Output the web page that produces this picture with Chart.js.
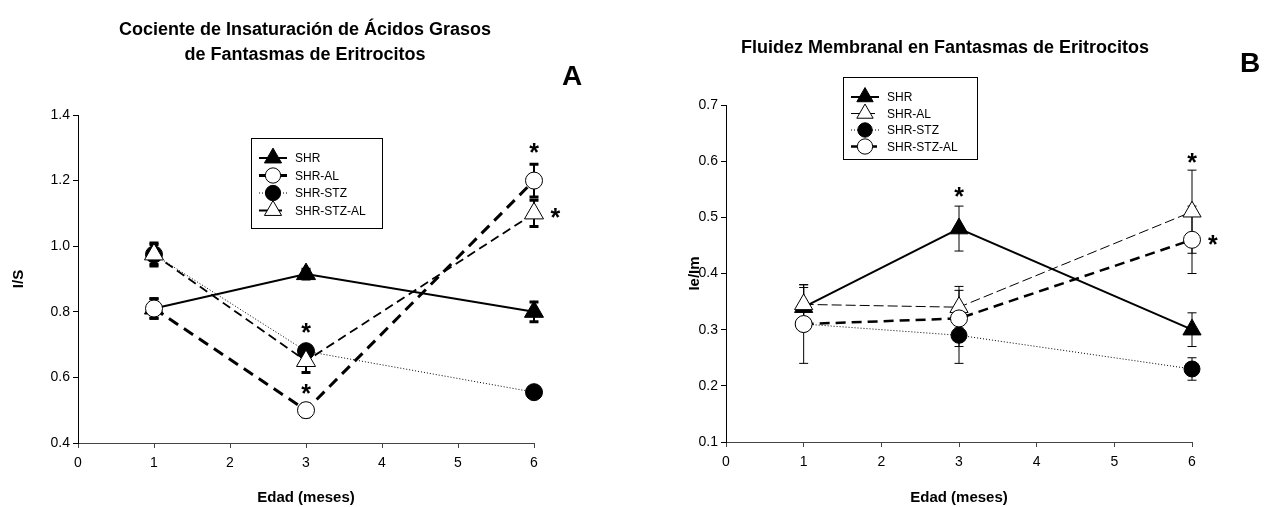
<!DOCTYPE html>
<html lang="es">
<head>
<meta charset="utf-8">
<title>Fantasmas de Eritrocitos</title>
<script src="https://cdn.jsdelivr.net/npm/chart.js@4.4.1/dist/chart.umd.min.js"></script>
<style>
  html, body { margin: 0; padding: 0; background: #fff; }
  body { width: 1272px; height: 507px; position: relative; overflow: hidden; font-family: "Liberation Sans", Arial, sans-serif; }
  .panel { position: absolute; top: 0; width: 636px; height: 507px; }
  .titulo { position: absolute; font-weight: bold; font-size: 18px; text-align: center; line-height: 25px; color: #000; white-space: nowrap; }
  .letra { position: absolute; font-weight: bold; font-size: 28px; color: #000; }
</style>
</head>
<body>
<div class="panel" style="left:0"><canvas id="chartA" width="636" height="507"></canvas></div>
<div class="panel" style="left:636px"><canvas id="chartB" width="636" height="507"></canvas></div>
<div class="titulo" style="left:60px; top:17px; width:490px;">Cociente de Insaturación de Ácidos Grasos<br>de Fantasmas de Eritrocitos</div>
<div class="letra" style="left:562px; top:60px;">A</div>
<div class="titulo" style="left:690px; top:35px; width:510px;">Fluidez Membranal en Fantasmas de Eritrocitos</div>
<div class="letra" style="left:1240px; top:47px;">B</div>

<script>
// Edad en meses
const edad = [1, 3, 6];

// A: cociente I/S (media y error)
const isShr = [0.81, 0.915, 0.80];
const isShrErr = [0.03, 0.015, 0.03];
const isShrAl = [0.81, 0.50, 1.20];
const isShrAlErr = [0.03, 0.02, 0.05];
const isShrStz = [0.975, 0.68, 0.555];
const isShrStzErr = [0.03, 0.015, 0.01];
const isShrStzAl = [0.975, 0.65, 1.10];
const isShrStzAlErr = [0.035, 0.035, 0.04];
const isTicks = [0.4, 0.6, 0.8, 1.0, 1.2, 1.4];
const isAsteriscos = [[3, 0.75], [3, 0.565], [6, 1.30], [6.28, 1.10]];

// B: fluidez Ie/Im (media y error)
const fmShr = [0.34, 0.48, 0.30];
const fmShrErr = [0.035, 0.04, 0.03];
const fmShrAl = [0.345, 0.34, 0.51];
const fmShrAlErr = [0.035, 0.037, 0.074];
const fmShrStz = [0.31, 0.29, 0.23];
const fmShrStzErr = [0.01, 0.05, 0.02];
const fmShrStzAl = [0.31, 0.32, 0.46];
const fmShrStzAlErr = [0.07, 0.05, 0.06];
const fmTicks = [0.1, 0.2, 0.3, 0.4, 0.5, 0.6, 0.7];
const fmAsteriscos = [[3, 0.545], [6, 0.605], [6.27, 0.46]];

const xTicks = [0, 1, 2, 3, 4, 5, 6];
const FONT = '"Liberation Sans", Arial, sans-serif';

function puntos(ys) {
    return edad.map((x, i) => ({ x, y: ys[i] }));
}

function serie(label, ys, errs, s, i) {
    return {
        label,
        data: puntos(ys),
        errores: errs,
        order: -i, // la última serie queda encima
        borderColor: '#000',
        borderWidth: s.width,
        borderDash: s.dash || [],
        pointStyle: s.punto,
        pointRadius: s.radio,
        pointBorderWidth: 1,
        pointBorderColor: '#000',
        pointBackgroundColor: s.relleno ? '#000' : '#fff',
        capAncho: s.cap,
        capGrueso: s.capGrueso,
        tension: 0,
        fill: false,
        clip: false
    };
}

// barras de error dibujadas bajo las líneas
const errorBars = {
    id: 'errorBars',
    beforeDatasetsDraw(chart) {
        const { ctx, scales: { x, y } } = chart;
        ctx.save();
        ctx.strokeStyle = '#000';
        chart.data.datasets.forEach(ds => {
            ds.data.forEach((p, i) => {
                const e = ds.errores[i];
                const px = x.getPixelForValue(p.x);
                const y1 = y.getPixelForValue(p.y + e);
                const y2 = y.getPixelForValue(p.y - e);
                ctx.setLineDash([]);
                ctx.lineWidth = ds.capGrueso > 1 ? 2 : 1;
                ctx.beginPath();
                ctx.moveTo(px, y1);
                ctx.lineTo(px, y2);
                ctx.stroke();
                ctx.lineWidth = ds.capGrueso;
                ctx.beginPath();
                ctx.moveTo(px - ds.capAncho / 2, y1);
                ctx.lineTo(px + ds.capAncho / 2, y1);
                ctx.moveTo(px - ds.capAncho / 2, y2);
                ctx.lineTo(px + ds.capAncho / 2, y2);
                ctx.stroke();
            });
        });
        ctx.restore();
    }
};

// asteriscos de significancia y leyenda en recuadro
const anotaciones = {
    id: 'anotaciones',
    afterDatasetsDraw(chart, args, opts) {
        const { ctx, scales: { x, y } } = chart;
        ctx.save();
        ctx.fillStyle = '#000';
        ctx.font = 'bold 25px ' + FONT;
        ctx.textAlign = 'center';
        ctx.textBaseline = 'middle';
        opts.asteriscos.forEach(([ax, ay]) => {
            ctx.fillText('*', x.getPixelForValue(ax), y.getPixelForValue(ay) + 6);
        });

        const L = opts.leyenda;
        ctx.lineWidth = 1;
        ctx.setLineDash([]);
        ctx.strokeStyle = '#000';
        ctx.strokeRect(L.x + 0.5, L.y + 0.5, L.w, L.h);
        ctx.font = L.font + 'px ' + FONT;
        ctx.textAlign = 'left';
        chart.data.datasets.forEach((ds, i) => {
            const yy = L.y + L.primera + i * L.paso;
            ctx.strokeStyle = '#000';
            ctx.lineWidth = ds.borderWidth;
            ctx.setLineDash(ds.borderDash);
            ctx.beginPath();
            ctx.moveTo(L.x + 8, yy);
            ctx.lineTo(L.x + 36, yy);
            ctx.stroke();
            ctx.setLineDash([]);
            ctx.lineWidth = 1;
            ctx.fillStyle = ds.pointBackgroundColor;
            Chart.helpers.drawPoint(ctx, {
                pointStyle: ds.pointStyle,
                radius: ds.pointRadius * 0.9,
                borderWidth: 1
            }, L.x + 22, yy);
            ctx.fillStyle = '#000';
            ctx.fillText(ds.label, L.x + 44, yy + 1);
        });
        ctx.restore();
    }
};

function opciones(cfg) {
    return {
        responsive: false,
        animation: false,
        layout: { padding: cfg.padding },
        plugins: {
            legend: { display: false },
            tooltip: { enabled: false },
            anotaciones: { asteriscos: cfg.asteriscos, leyenda: cfg.leyenda }
        },
        scales: {
            x: {
                type: 'linear',
                min: 0,
                max: 6,
                afterBuildTicks: s => { s.ticks = xTicks.map(v => ({ value: v })); },
                afterFit: s => { s.height = cfg.altoX; },
                border: { display: true, color: '#444', width: 1 },
                grid: { display: true, drawOnChartArea: false, drawTicks: true, tickLength: 5, color: '#444' },
                ticks: { color: '#000', font: { family: FONT, size: 14 }, padding: 7 },
                title: { display: true, text: 'Edad (meses)', color: '#000', font: { family: FONT, size: 15, weight: 'bold' }, padding: { top: 4, bottom: 0 } }
            },
            y: {
                type: 'linear',
                min: cfg.yTicks[0],
                max: cfg.yTicks[cfg.yTicks.length - 1],
                afterBuildTicks: s => { s.ticks = cfg.yTicks.map(v => ({ value: v })); },
                afterFit: s => { s.width = cfg.anchoY; },
                border: { display: true, color: '#000', width: 1 },
                grid: { display: true, drawOnChartArea: false, drawTicks: true, tickLength: 5, color: '#000' },
                ticks: { color: '#000', font: { family: FONT, size: 14 }, padding: 3, callback: v => v.toFixed(1) },
                title: { display: true, text: cfg.yTitulo, color: '#000', font: { family: FONT, size: 15, weight: 'bold' }, padding: { top: 4, bottom: 4 } }
            }
        }
    };
}

new Chart(document.getElementById('chartA'), {
    type: 'line',
    data: {
        datasets: [
            serie('SHR', isShr, isShrErr, { width: 2, punto: 'triangle', radio: 11, relleno: true, cap: 9, capGrueso: 3 }, 0),
            serie('SHR-AL', isShrAl, isShrAlErr, { width: 3, dash: [11, 7], punto: 'circle', radio: 8.5, relleno: false, cap: 9, capGrueso: 3 }, 1),
            serie('SHR-STZ', isShrStz, isShrStzErr, { width: 1, dash: [1, 2], punto: 'circle', radio: 8.5, relleno: true, cap: 9, capGrueso: 3 }, 2),
            serie('SHR-STZ-AL', isShrStzAl, isShrStzAlErr, { width: 1.8, dash: [9, 5], punto: 'triangle', radio: 11, relleno: false, cap: 9, capGrueso: 3 }, 3)
        ]
    },
    options: opciones({
        padding: { left: 6, top: 115, right: 102, bottom: 0 },
        anchoY: 72,
        altoX: 64,
        yTicks: isTicks,
        yTitulo: 'I/S',
        asteriscos: isAsteriscos,
        leyenda: { x: 251, y: 138, w: 131, h: 90, primera: 20, paso: 17.5, font: 12 }
    }),
    plugins: [errorBars, anotaciones]
});

new Chart(document.getElementById('chartB'), {
    type: 'line',
    data: {
        datasets: [
            serie('SHR', fmShr, fmShrErr, { width: 2, punto: 'triangle', radio: 10.5, relleno: true, cap: 9, capGrueso: 1 }, 0),
            serie('SHR-AL', fmShrAl, fmShrAlErr, { width: 1, dash: [10, 4], punto: 'triangle', radio: 10.5, relleno: false, cap: 9, capGrueso: 1 }, 1),
            serie('SHR-STZ', fmShrStz, fmShrStzErr, { width: 1, dash: [1, 2], punto: 'circle', radio: 8, relleno: true, cap: 9, capGrueso: 1 }, 2),
            serie('SHR-STZ-AL', fmShrStzAl, fmShrStzAlErr, { width: 2.5, dash: [10, 6], punto: 'circle', radio: 8.5, relleno: false, cap: 9, capGrueso: 1 }, 3)
        ]
    },
    options: opciones({
        padding: { left: 46, top: 105, right: 80, bottom: 0 },
        anchoY: 44,
        altoX: 65,
        yTicks: fmTicks,
        yTitulo: 'Ie/Im',
        asteriscos: fmAsteriscos,
        leyenda: { x: 207, y: 77, w: 134, h: 82, primera: 20, paso: 16.5, font: 12 }
    }),
    plugins: [errorBars, anotaciones]
});
</script>
</body>
</html>
